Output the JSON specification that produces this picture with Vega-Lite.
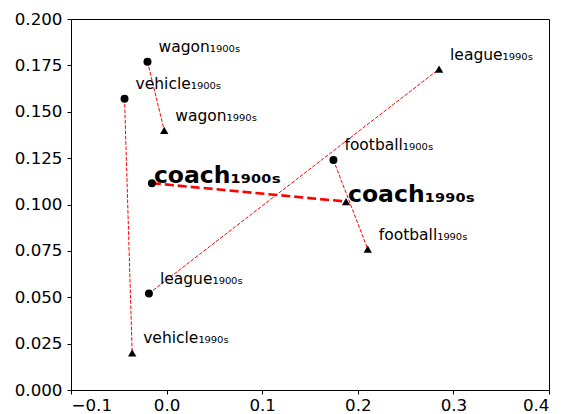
{
  "$schema": "https://vega.github.io/schema/vega-lite/v6.json",
  "width": 478,
  "height": 371,
  "autosize": {"type": "none"},
  "padding": {"left": 71, "top": 19, "right": 15, "bottom": 24},
  "background": "white",
  "config": {
    "view": {"stroke": "#000000", "strokeWidth": 1},
    "font": "DejaVu Sans",
    "axis": {
      "grid": false,
      "domain": false,
      "tickColor": "#000000",
      "tickSize": 4,
      "tickWidth": 1,
      "labelColor": "#000000",
      "labelFont": "DejaVu Sans",
      "labelFontSize": 16.7,
      "title": null
    }
  },
  "data": {
    "values": [
      {"word": "wagon", "era": "1900s", "x": -0.020, "y": 0.177, "label": "wagon₁₉₀₀ₛ"},
      {"word": "wagon", "era": "1990s", "x": -0.0025, "y": 0.140, "label": "wagon₁₉₉₀ₛ"},
      {"word": "vehicle", "era": "1900s", "x": -0.044, "y": 0.157, "label": "vehicle₁₉₀₀ₛ"},
      {"word": "vehicle", "era": "1990s", "x": -0.036, "y": 0.020, "label": "vehicle₁₉₉₀ₛ"},
      {"word": "league", "era": "1900s", "x": -0.0185, "y": 0.052, "label": "league₁₉₀₀ₛ"},
      {"word": "league", "era": "1990s", "x": 0.285, "y": 0.173, "label": "league₁₉₉₀ₛ"},
      {"word": "football", "era": "1900s", "x": 0.1745, "y": 0.124, "label": "football₁₉₀₀ₛ"},
      {"word": "football", "era": "1990s", "x": 0.2104, "y": 0.0759, "label": "football₁₉₉₀ₛ"},
      {"word": "coach", "era": "1900s", "x": -0.0154, "y": 0.1115, "label": "coach₁₉₀₀ₛ"},
      {"word": "coach", "era": "1990s", "x": 0.1877, "y": 0.1016, "label": "coach₁₉₉₀ₛ"}
    ]
  },
  "encoding": {
    "x": {
      "field": "x", "type": "quantitative",
      "scale": {"domain": [-0.1, 0.4], "nice": false, "zero": false},
      "axis": {"values": [-0.1, 0, 0.1, 0.2, 0.3, 0.4], "format": ".1f", "labelPadding": 3}
    },
    "y": {
      "field": "y", "type": "quantitative",
      "scale": {"domain": [0, 0.2], "nice": false, "zero": false},
      "axis": {"values": [0, 0.025, 0.05, 0.075, 0.1, 0.125, 0.15, 0.175, 0.2], "format": ".3f", "labelPadding": 5}
    }
  },
  "layer": [
    {
      "transform": [{"filter": "datum.word !== 'coach'"}],
      "mark": {"type": "line", "color": "#ff0000", "strokeWidth": 1, "strokeDash": [3.7, 1.6]},
      "encoding": {"detail": {"field": "word"}, "order": {"field": "era"}}
    },
    {
      "transform": [{"filter": "datum.word === 'coach'"}],
      "mark": {"type": "line", "color": "#ff0000", "strokeWidth": 2.6, "strokeDash": [9, 4]},
      "encoding": {"detail": {"field": "word"}, "order": {"field": "era"}}
    },
    {
      "transform": [{"filter": "datum.era === '1900s'"}],
      "mark": {"type": "point", "shape": "circle", "filled": true, "color": "#000000", "opacity": 1, "size": 64}
    },
    {
      "transform": [{"filter": "datum.era === '1990s'"}],
      "mark": {"type": "point", "shape": "triangle-up", "filled": true, "color": "#000000", "opacity": 1, "size": 70}
    },
    {
      "transform": [{"filter": "datum.word !== 'coach'"}],
      "mark": {"type": "text", "align": "left", "baseline": "alphabetic", "dx": 11, "dy": -9.5, "font": "DejaVu Sans", "fontSize": 15.5, "color": "#000000"},
      "encoding": {"text": {"field": "label"}}
    },
    {
      "transform": [{"filter": "datum.word === 'coach'"}],
      "mark": {"type": "text", "align": "left", "baseline": "alphabetic", "dx": 2, "dy": 0, "font": "DejaVu Sans", "fontWeight": "bold", "fontSize": 23.5, "color": "#000000"},
      "encoding": {"text": {"field": "label"}}
    }
  ]
}
